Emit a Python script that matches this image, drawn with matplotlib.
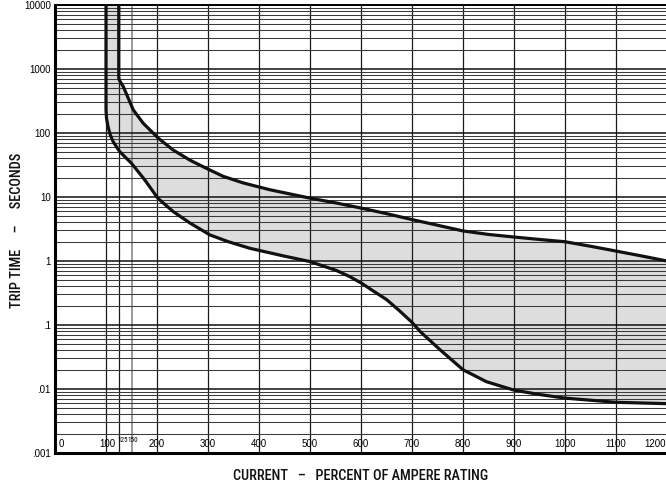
import matplotlib
matplotlib.use("Agg")
import matplotlib.pyplot as plt
import matplotlib.transforms as mtransforms
from matplotlib.ticker import LogLocator, NullFormatter
import numpy as np

COND = ['Roboto Condensed', 'Archivo Narrow', 'PT Sans Narrow', 'Liberation Sans Narrow', 'Liberation Sans', 'DejaVu Sans']
REG = ['Liberation Sans', 'DejaVu Sans']
plt.rcParams['font.family'] = REG

# Data (percent of ampere rating vs trip time in seconds)
lower_x = [100, 100, 101, 104, 108, 114, 127, 150, 176, 202, 232, 265, 304, 340, 382, 448, 500, 552, 578,
           601, 624, 650, 675, 700, 716, 755, 800, 846, 900, 950, 1000, 1100, 1200]
lower_y = [10000, 230, 170, 126, 95, 73, 51, 33.6, 18.5, 9.5, 5.9, 3.9, 2.55, 2.0, 1.58, 1.2, 0.98, 0.71, 0.57,
           0.45, 0.34, 0.25, 0.168, 0.11, 0.079, 0.041, 0.020, 0.013, 0.0096, 0.0082, 0.0072, 0.0062, 0.0059]
upper_x = [125, 125, 126, 134, 153.5, 173, 202.5, 232, 265, 297, 330, 369, 421, 500, 550, 601, 650, 702,
           755, 800, 850, 900, 950, 1000, 1050, 1100, 1150, 1200]
upper_y = [10000, 730, 673, 529, 229, 142, 83, 54, 37.5, 28, 21, 16.6, 13.0, 9.6, 8.1, 6.7, 5.5, 4.4,
           3.55, 2.95, 2.6, 2.37, 2.17, 2.0, 1.7, 1.43, 1.2, 1.0]

x_grid = [100, 125, 150, 200, 300, 400, 500, 600, 700, 800, 900, 1000, 1100]
x_labels = ['0', '100', '125', '150', '200', '300', '400', '500', '600', '700', '800', '900', '1000', '1100', '1200']
x_label_pos = [8, 103, 133, 152, 200, 300, 400, 500, 600, 700, 800, 900, 1000, 1100, 1176]
y_ticks = [0.001, 0.01, 0.1, 1, 10, 100, 1000, 10000]
y_labels = ['.001', '.01', '.1', '1', '10', '100', '1000', '10000']

W, H = 666, 488
fig = plt.figure(figsize=(W / 100, H / 100), dpi=100)
ax = fig.add_axes([55 / W, 35 / H, 612 / W, 448 / H])
ax.set_yscale('log')
ax.set_xlim(0, 1200)
ax.set_ylim(0.001, 10000)

# grid
ax.set_yticks(y_ticks)
ax.set_yticklabels(y_labels, fontsize=7, family=REG)
ax.yaxis.set_minor_locator(LogLocator(base=10, subs=np.arange(2, 10)))
ax.yaxis.set_minor_formatter(NullFormatter())
ax.tick_params(axis='y', which='both', length=0, pad=3)
ax.grid(True, axis='y', which='major', color='#111111', lw=1.1, zorder=1)
ax.grid(True, axis='y', which='minor', color='#3a3a3a', lw=0.75, zorder=1)
ax.set_xticks(x_grid)
ax.set_xticklabels([])
ax.tick_params(axis='x', length=0)
ax.grid(True, axis='x', which='major', color='#1a1a1a', lw=0.9, zorder=1)
for gl, v in zip(ax.get_xgridlines(), x_grid):
    if v == 150:
        gl.set_color('#808080')
        gl.set_linewidth(1.1)
ax.set_axisbelow(True)

# shaded band
poly_x = upper_x + lower_x[::-1]
poly_y = upper_y + lower_y[::-1]
ax.fill(poly_x, poly_y, color='#d8d8d8', alpha=0.85, lw=0, zorder=0.5)

ax.plot(lower_x, lower_y, color='#111111', lw=2.3, solid_joinstyle='round', zorder=3)
ax.plot(upper_x, upper_y, color='#111111', lw=2.3, solid_joinstyle='round', zorder=3)

# spines
ax.spines['right'].set_visible(False)
ax.spines['left'].set_linewidth(2.2)
ax.spines['bottom'].set_linewidth(2.2)
ax.spines['top'].set_linewidth(1.4)

# x tick labels inside axes
trans = mtransforms.blended_transform_factory(ax.transData, ax.transAxes)
for lab, pos in zip(x_labels, x_label_pos):
    if lab == '0':
        ax.text(pos, 0.009, lab, transform=trans, ha='left', va='bottom', fontsize=7, family=REG)
    elif lab in ('125', '150'):
        ax.text(pos, 0.02, lab, transform=trans, ha='center', va='bottom', fontsize=5.2, family=COND)
    else:
        ax.text(pos, 0.009, lab, transform=trans, ha='center', va='bottom', fontsize=7, family=REG)

fig.text(361 / W, 1 - 476 / H, 'CURRENT   –   PERCENT OF AMPERE RATING', ha='center', va='center',
         fontsize=10.3, color='#111111', family=COND, weight='medium')
fig.text(17 / W, 1 - 230 / H, 'TRIP TIME     –     SECONDS', ha='center', va='center', rotation=90,
         fontsize=10.3, color='#111111', family=COND, weight='medium')

fig.savefig('out.png', dpi=100)
